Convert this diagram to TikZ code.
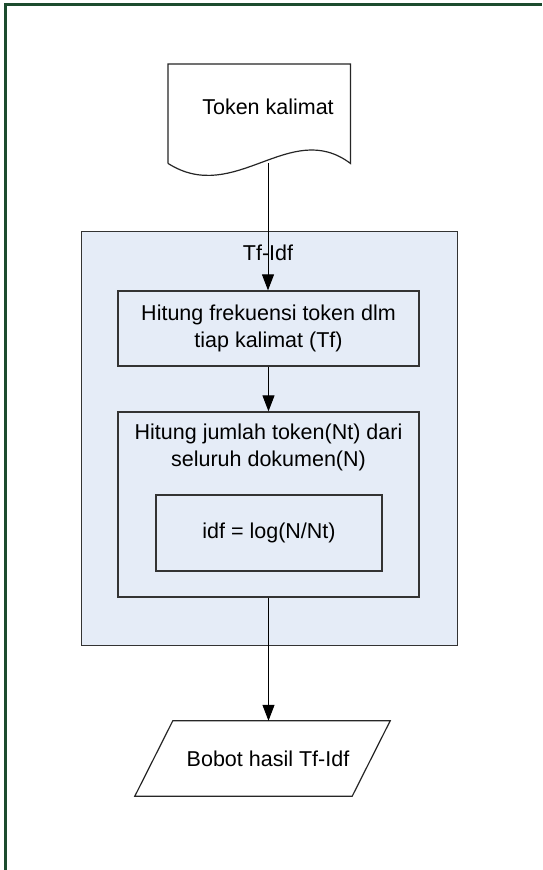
\documentclass[tikz,border=0pt]{standalone}
\usepackage{fontspec}
\setmainfont{Liberation Sans}
\usetikzlibrary{arrows.meta, shapes.geometric, positioning}
\definecolor{frameGreen}{RGB}{28,76,46}
\definecolor{poolBlue}{RGB}{229,236,247}
\tikzset{
  >={Triangle[length=16pt, width=12pt]},
  every picture/.style={line cap=butt, line join=miter},
  px/.style={x=1pt, y=-1pt},
  txt/.style={font=\fontsize{21.5}{27}\selectfont, align=center, inner sep=0pt},
  procbox/.style={draw=black!80, line width=1.3pt, fill=poolBlue, txt},
  pool/.style={draw=black!80, line width=1.3pt, fill=poolBlue},
  flow/.style={->, line width=1pt},
  outline/.style={draw=black!85, line width=1.2pt},
}
\begin{document}
\begin{tikzpicture}[px]
  \useasboundingbox (0,0) rectangle (542,870);
  \fill[white] (0,0) rectangle (542,870);
  \draw[frameGreen, line width=3pt] (5,870) -- (5,4) -- (542,4);
  % input document
  \node[txt, minimum width=182pt, minimum height=99pt, anchor=north west] (tok) at (168,64) {};
  \draw[outline] (tok.south west) -- (tok.north west) -- (tok.north east) -- (tok.south east)
    .. controls (290,118) and (235,206) .. (tok.south west);
  \node[txt] (toklbl) at (268,107) {Token kalimat};
  \coordinate (tokout) at (268,163);
  % Tf-Idf container
  \node[pool, minimum width=376pt, minimum height=414pt, anchor=north west] (tfidf) at (81,231) {};
  \node[txt] (tfidflbl) at (268,253) {Tf-Idf};
  \node[procbox, minimum width=301pt, minimum height=75pt] (tf) at (268.5,328.5)
    {Hitung frekuensi token dlm\\tiap kalimat (Tf)};
  \node[procbox, minimum width=301pt, minimum height=185pt] (nt) at (268.5,504.5) {};
  \node[txt] (ntlbl) at (268.5,447) {Hitung jumlah token(Nt) dari\\seluruh dokumen(N)};
  \node[procbox, minimum width=226pt, minimum height=76pt] (idf) at (269,533) {idf = log(N/Nt)};
  % output (parallelogram, slant 38)
  \node[txt, minimum width=255pt, minimum height=75pt] (bobot) at (262.5,758.5) {\hspace*{11pt}Bobot hasil Tf-Idf};
  \draw[outline] (bobot.south west) -- ([xshift=-38pt]bobot.south east) -- (bobot.north east)
    -- ([xshift=38pt]bobot.north west) -- cycle;
  % connectors
  \draw[flow] (tokout) -- (tokout |- tf.north);
  \draw[flow] (tf.south) -- (nt.north);
  \draw[flow] (nt.south) -- (nt.south |- bobot.north);
\end{tikzpicture}
\end{document}
